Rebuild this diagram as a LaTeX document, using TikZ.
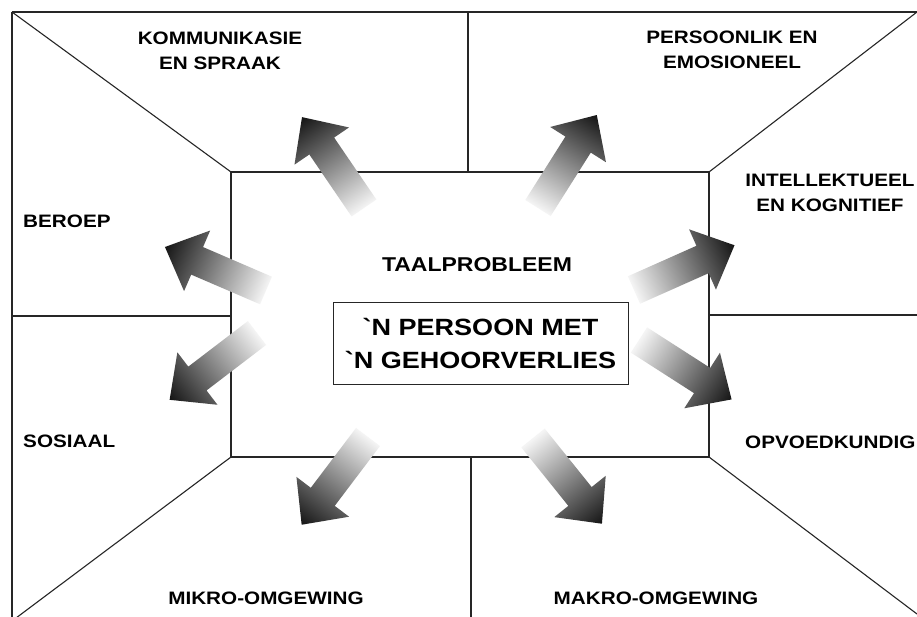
\documentclass[tikz,border=0pt]{standalone}
\usepackage{fontspec}
\newfontfamily\lab{Liberation Sans}[FakeStretch=1.15]
\newcommand\fatarrowat[2]{%
  \begin{scope}[transform canvas={shift={(#1)},rotate=#2}]
    \shade[fatarrow] (0,-15) -- (75,-15) -- (75,-33) -- (110,0) -- (75,33) -- (75,15) -- (0,15) -- cycle;
  \end{scope}}
\begin{document}
\begin{tikzpicture}[x=1pt,y=-1pt,
  frameline/.style={draw=black!85, line width=1.1pt},
  lbl/.style={font=\lab\bfseries\fontsize{18}{25}\selectfont, align=center, inner sep=0pt, text=black},
  fatarrow/.style={left color=black!4, middle color=black!40, right color=black!92}]
\useasboundingbox (0,0) rectangle (917,617);
\fill[white] (0,0) rectangle (917,617);
% outer corners and dividers
\coordinate (otl) at (12,12);
\coordinate (otr) at (917,12);
\coordinate (obl) at (12,621);
\coordinate (obr) at (917,614);
\coordinate (tdiv) at (468,12);
\coordinate (bdiv) at (471,620);
\coordinate (ldiv) at (12,316);
\coordinate (rdiv) at (917,315);
% inner room
\node[frameline, minimum width=478pt, minimum height=285pt, anchor=north west, inner sep=0pt, outer sep=0pt] (room) at (231,172) {};
\draw[frameline] (otl) -- (otr);
\draw[frameline] (otl) -- (obl);
\draw[frameline] (otl) -- (room.north west);
\draw[frameline] (otr) -- (room.north east);
\draw[frameline] (obl) -- (room.south west);
\draw[frameline] (obr) -- (room.south east);
\draw[frameline] (tdiv) -- (tdiv |- room.north);
\draw[frameline] (bdiv |- room.south) -- (bdiv);
\draw[frameline] (ldiv) -- (ldiv -| room.west);
\draw[frameline] (rdiv -| room.east) -- (rdiv);
% arrows
\fatarrowat{364,208}{124.3}
\fatarrowat{538,208}{57.7}
\fatarrowat{266,290.5}{156.7}
\fatarrowat{257,333}{217.4}
\fatarrowat{368,437}{232.9}
\fatarrowat{533,438}{308.8}
\fatarrowat{639,340}{-32.7}
\fatarrowat{634,290}{24}
% labels
\node[lbl] (komm) at (220,51) {KOMMUNIKASIE\\EN SPRAAK};
\node[lbl] (pers) at (732,50) {PERSOONLIK EN\\EMOSIONEEL};
\node[lbl] (intel) at (830,193) {INTELLEKTUEEL\\EN KOGNITIEF};
\node[lbl, anchor=west] (beroep) at (23,221.5) {BEROEP};
\node[lbl, anchor=west] (sosiaal) at (23,441) {SOSIAAL};
\node[lbl, anchor=west] (opv) at (745,442) {OPVOEDKUNDIG};
\node[lbl] (mikro) at (266,598) {MIKRO-OMGEWING};
\node[lbl] (makro) at (656,598) {MAKRO-OMGEWING};
\node[lbl, font=\lab\bfseries\fontsize{20}{25}\selectfont] (taal) at (477,265) {TAALPROBLEEM};
\node[draw=black!85, line width=1pt, fill=white, minimum width=295pt, minimum height=82pt, inner sep=0pt, align=center, font=\lab\bfseries\fontsize{23.5}{33}\selectfont] (person) at (480.5,343) {\symbol{96}N PERSOON MET\\\symbol{96}N GEHOORVERLIES};
\end{tikzpicture}
\end{document}
